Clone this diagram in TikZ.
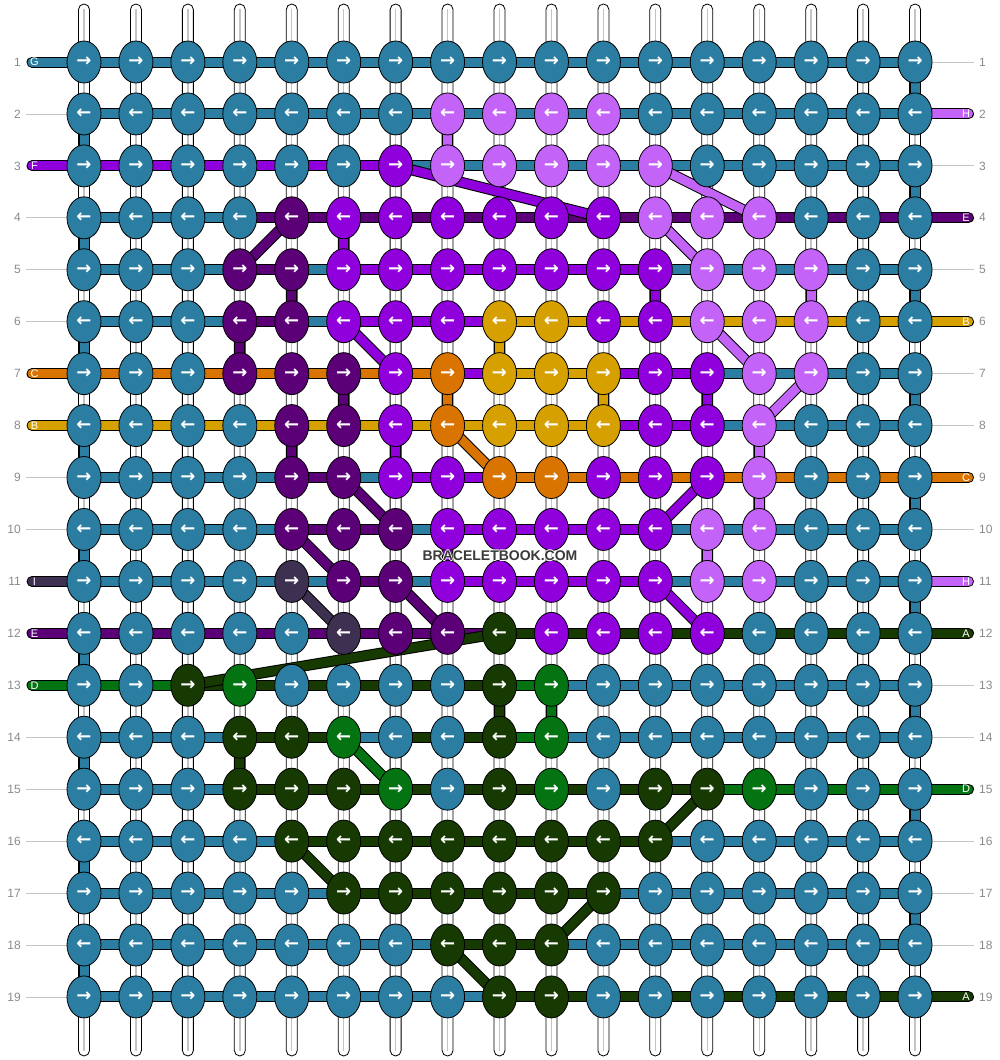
\documentclass[tikz,border=0pt]{standalone}
\usepackage{fontspec}
\setmainfont{DejaVu Sans}
\newfontfamily\lib{Liberation Sans}
\usetikzlibrary{shapes.geometric}
\pgfdeclarelayer{tubes}
\pgfdeclarelayer{bars}
\pgfsetlayers{tubes,bars,main}
\definecolor{kT}{HTML}{2B7EA1}
\definecolor{kL}{HTML}{C463F7}
\definecolor{kP}{HTML}{9000DC}
\definecolor{kD}{HTML}{5C0078}
\definecolor{kO}{HTML}{D97400}
\definecolor{kY}{HTML}{D6A000}
\definecolor{kI}{HTML}{3D3050}
\definecolor{kA}{HTML}{173A03}
\definecolor{kN}{HTML}{047312}
\definecolor{numgray}{HTML}{8A8A8A}
\definecolor{linegray}{HTML}{C4C4C4}
\definecolor{wmgray}{HTML}{3A3A3A}
\newcommand\wmword{BRACELETBOOK.COM}
\newcommand\wmhalo{%
  \rlap{\color{white}\kern0.9pt\wmword}%
  \rlap{\color{white}\kern-0.9pt\wmword}%
  \rlap{\color{white}\raisebox{0.9pt}{\wmword}}%
  \rlap{\color{white}\raisebox{-0.9pt}{\wmword}}%
  \wmword}
\begin{document}
\begin{tikzpicture}[x=1pt,y=-1pt,
  knot/.style={ellipse,draw=black,line width=0.8pt,minimum width=34pt,minimum height=42pt,inner sep=0pt,text=white,font=\bfseries\fontsize{18}{18}\selectfont},
  bar/.style={draw=black,line width=11pt,postaction={draw=#1,line width=9pt}},
  tube/.style={fill=white,draw=black,line width=0.8pt,rounded corners=5.5pt},
  num/.style={text=numgray,font=\lib\fontsize{12}{12}\selectfont,inner sep=0pt},
  lbl/.style={text=white,font=\lib\fontsize{11}{11}\selectfont,inner sep=0pt},
  gline/.style={draw=linegray,line width=0.8pt}]
\useasboundingbox (0,0) rectangle (1000,1060);
% tubes
\begin{pgfonlayer}{tubes}
\foreach \c in {1,...,17}{
  \draw[tube] ({84+(\c-1)*51.94-5.5},4) rectangle ({84+(\c-1)*51.94+5.5},1056);
  \draw[draw=linegray,line width=1.4pt] ({84+(\c-1)*51.94},9) -- ({84+(\c-1)*51.94},1051);
}
\end{pgfonlayer}
% knots
\foreach \row [count=\r] in {
 {T,T,T,T,T,T,T,T,T,T,T,T,T,T,T,T,T},
 {T,T,T,T,T,T,T,L,L,L,L,T,T,T,T,T,T},
 {T,T,T,T,T,T,P,L,L,L,L,L,T,T,T,T,T},
 {T,T,T,T,D,P,P,P,P,P,P,L,L,L,T,T,T},
 {T,T,T,D,D,P,P,P,P,P,P,P,L,L,L,T,T},
 {T,T,T,D,D,P,P,P,Y,Y,P,P,L,L,L,T,T},
 {T,T,T,D,D,D,P,O,Y,Y,Y,P,P,L,L,T,T},
 {T,T,T,T,D,D,P,O,Y,Y,Y,P,P,L,T,T,T},
 {T,T,T,T,D,D,P,P,O,O,P,P,P,L,T,T,T},
 {T,T,T,T,D,D,D,P,P,P,P,P,L,L,T,T,T},
 {T,T,T,T,I,D,D,P,P,P,P,P,L,L,T,T,T},
 {T,T,T,T,T,I,D,D,A,P,P,P,P,T,T,T,T},
 {T,T,A,N,T,T,T,T,A,N,T,T,T,T,T,T,T},
 {T,T,T,A,A,N,T,T,A,N,T,T,T,T,T,T,T},
 {T,T,T,A,A,A,N,T,A,N,T,A,A,N,T,T,T},
 {T,T,T,T,A,A,A,A,A,A,A,A,T,T,T,T,T},
 {T,T,T,T,T,A,A,A,A,A,A,T,T,T,T,T,T},
 {T,T,T,T,T,T,T,A,A,A,T,T,T,T,T,T,T},
 {T,T,T,T,T,T,T,T,A,A,T,T,T,T,T,T,T}}{
  \foreach \k [count=\c] in \row {
    \ifodd\r\relax\def\ar{→}\else\def\ar{←}\fi
    \node[knot,fill=k\k] (k-\r-\c) at ({84+(\c-1)*51.94},{62+(\r-1)*51.94}) {\ar};
  }
}
% row numbers
\foreach \r in {1,...,19}{
  \node[num,anchor=east] (ln-\r) at (21,{62+(\r-1)*51.94}) {\r};
  \node[num,anchor=west] (rn-\r) at (979,{62+(\r-1)*51.94}) {\r};
  \coordinate (le-\r) at (32,{62+(\r-1)*51.94});
  \coordinate (re-\r) at (968.5,{62+(\r-1)*51.94});
}
\begin{pgfonlayer}{bars}
% grey guide lines
\foreach \r in {2,4,5,6,9,10,14,15,16,17,18,19}
  \draw[gline] ([xshift=5pt]ln-\r.east) -- (k-\r-1.center);
\foreach \r in {1,3,5,7,8,10,13,14,16,17,18}
  \draw[gline] (k-\r-17.center) -- ([xshift=-5pt]rn-\r.west);
% horizontal bars
\foreach \row [count=\r] in {
 {T,T,T,T,T,T,T,T,T,T,T,T,T,T,T,T},
 {T,T,T,T,T,T,T,T,T,T,T,T,T,T,T,T},
 {P,P,P,P,P,P,T,T,T,T,T,T,T,T,T,T},
 {T,T,T,D,D,D,D,D,D,D,D,D,D,D,D,D},
 {T,T,T,D,T,P,P,P,P,P,P,T,T,T,T,T},
 {T,T,T,D,T,P,P,P,Y,Y,Y,Y,Y,Y,Y,Y},
 {O,O,O,O,O,O,O,P,Y,Y,P,P,T,T,T,T},
 {Y,Y,Y,Y,Y,Y,Y,Y,Y,Y,P,P,T,T,T,T},
 {T,T,T,T,D,T,P,P,O,O,O,O,O,O,O,O},
 {T,T,T,T,D,D,T,P,P,P,P,T,T,T,T,T},
 {T,T,T,T,T,D,T,P,P,P,P,T,T,T,T,T},
 {D,D,D,D,D,D,D,D,A,A,A,A,A,A,A,A},
 {N,N,A,A,A,A,A,A,N,T,T,T,T,T,T,T},
 {T,T,T,A,A,T,A,A,N,T,T,T,T,T,T,T},
 {T,T,T,A,A,A,A,A,A,A,A,A,N,N,N,N},
 {T,T,T,T,A,A,A,A,A,A,A,T,T,T,T,T},
 {T,T,T,T,T,A,A,A,A,A,T,T,T,T,T,T},
 {T,T,T,T,T,T,T,A,A,T,T,T,T,T,T,T},
 {T,T,T,T,T,T,T,T,A,A,A,A,A,A,A,A}}{
  \foreach \s [count=\c] in \row {
    \pgfmathtruncatemacro\cn{\c+1}
    \draw[bar=k\s] (k-\r-\c.center) -- (k-\r-\cn.center);
  }
}
% thread ends
\foreach \r/\k in {1/T,3/P,7/O,8/Y,11/I,12/D,13/N}{
  \draw[bar=k\k,line cap=round] (le-\r) -- (k-\r-1.center);
}
\foreach \r/\k in {2/L,4/D,6/Y,9/O,11/L,12/A,15/N,19/A}{
  \draw[bar=k\k,line cap=round] (k-\r-17.center) -- (re-\r);
}
% vertical bars
\foreach \r in {1,3,...,17}{
  \pgfmathtruncatemacro\rn{\r+1}
  \draw[bar=kT] (k-\r-17.center) -- (k-\rn-17.center);
}
\foreach \r in {2,4,...,18}{
  \pgfmathtruncatemacro\rn{\r+1}
  \draw[bar=kT] (k-\r-1.center) -- (k-\rn-1.center);
}
\foreach \r/\c/\k in {2/8/L,4/6/P,5/5/D,5/12/P,5/15/L,6/4/D,6/9/Y,7/6/D,7/8/O,7/11/Y,7/13/P,8/5/D,8/7/P,8/14/L,9/14/L,10/13/L,10/8/P,13/9/A,13/10/N,14/4/A}{
  \pgfmathtruncatemacro\rn{\r+1}
  \draw[bar=k\k] (k-\r-\c.center) -- (k-\rn-\c.center);
}
% diagonals
\foreach \ra/\ca/\rb/\cb/\k in {3/7/4/11/P,3/12/4/14/L,4/5/5/4/D,4/12/5/13/L,6/6/7/7/P,6/13/7/14/L,7/15/8/14/L,8/8/9/9/O,9/6/10/7/D,9/13/10/12/P,10/5/11/6/D,11/5/12/6/I,11/7/12/8/D,11/12/12/13/P,12/9/13/3/A,14/6/15/7/N,15/13/16/12/A,16/5/17/6/A,17/11/18/10/A,18/8/19/9/A}{
  \draw[bar=k\k] (k-\ra-\ca.center) -- (k-\rb-\cb.center);
}
\end{pgfonlayer}
% letters at thread ends
\foreach \r/\t in {1/G,3/F,7/C,8/B,11/I,12/E,13/D}
  \node[lbl] (ll-\r) at (34.5,{62+(\r-1)*51.94}) {\t};
\foreach \r/\t in {2/H,4/E,6/B,9/C,11/H,12/A,15/D,19/A}
  \node[lbl] (rl-\r) at (966,{62+(\r-1)*51.94}) {\t};
% watermark
\node[text=wmgray,font=\lib\bfseries\fontsize{14}{14}\selectfont,inner sep=0pt] (wm) at (500,556) {\wmhalo};
\end{tikzpicture}
\end{document}
